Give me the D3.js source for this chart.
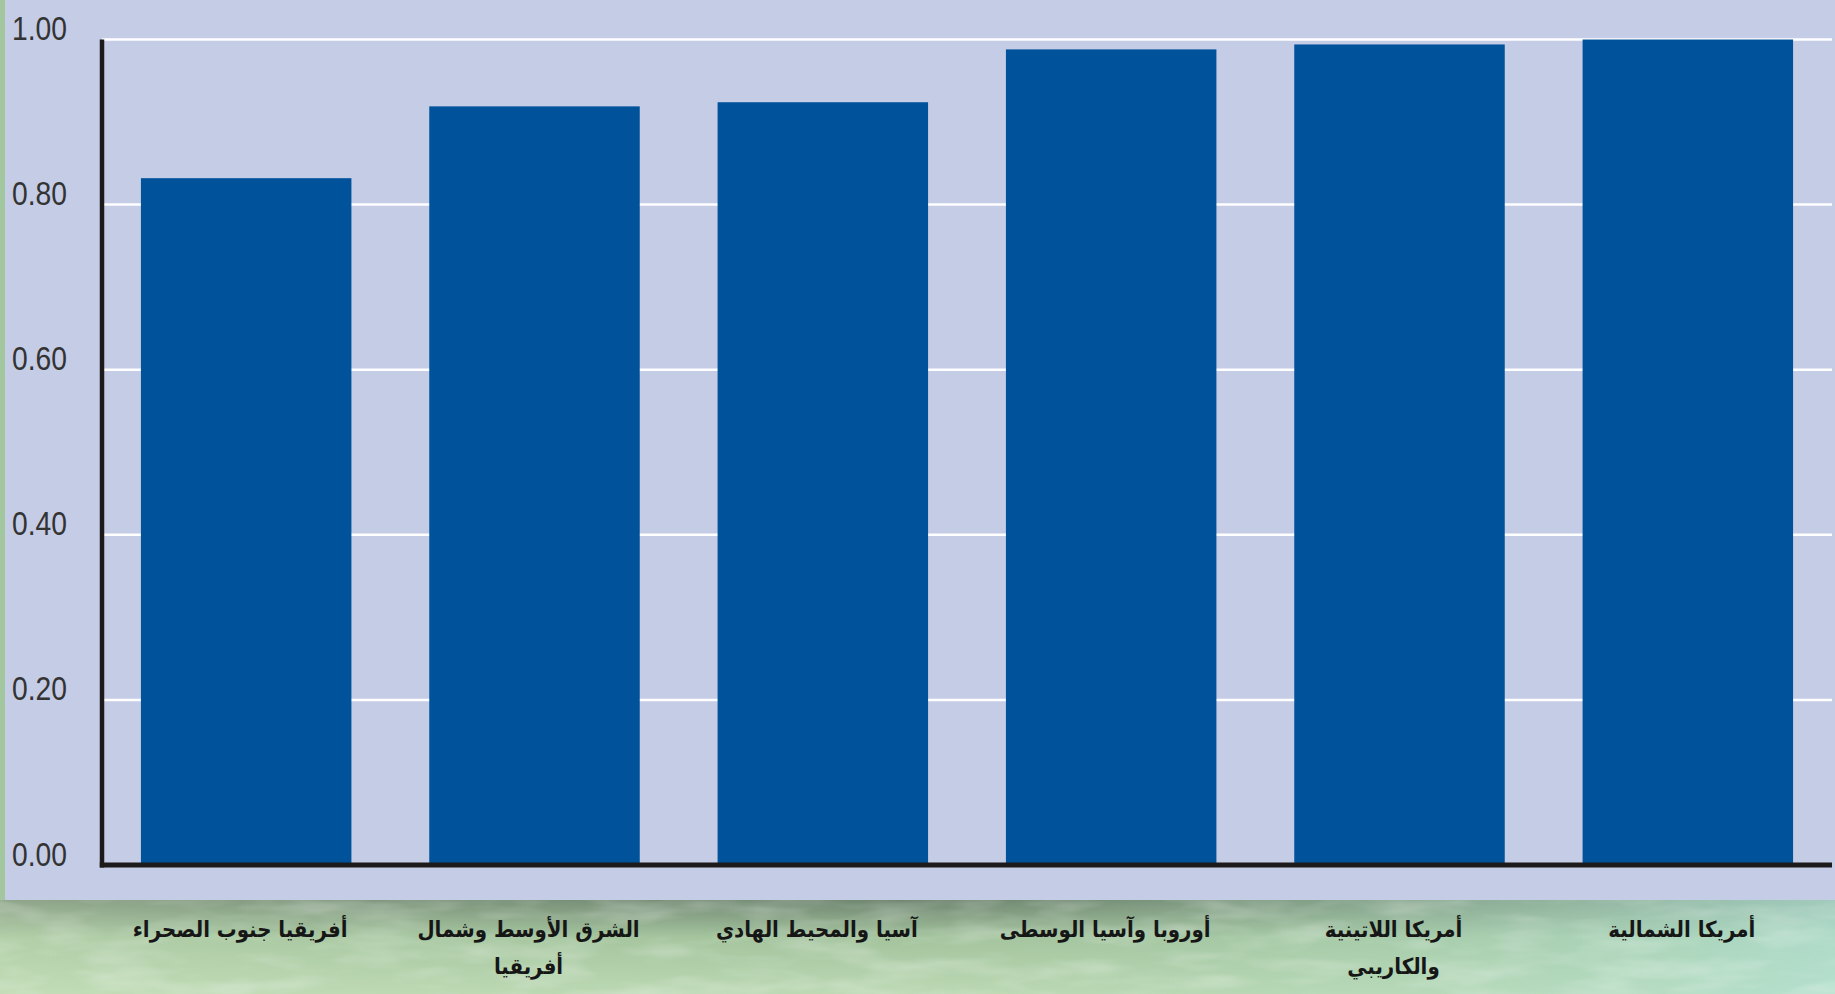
<!DOCTYPE html>
<html lang="ar">
<head>
    <meta charset="UTF-8">
    <title>Regions chart</title>
    <script src="https://d3js.org/d3.v7.min.js"></script>
    <style>
        body { margin: 0; padding: 0; overflow: hidden; }
        .tick-label { font-family: "Liberation Sans Narrow", "Arial Narrow", "Liberation Sans", sans-serif; font-size: 34px; fill: #333; }
        .cat-label { font-family: "DejaVu Sans Condensed", "DejaVu Sans", sans-serif; font-size: 22px; font-weight: bold; fill: #161616; }
    </style>
</head>
<body>
<div id="chart"></div>
<script>
    // data
    const regions = [
        ["أفريقيا جنوب الصحراء"],
        ["الشرق الأوسط وشمال", "أفريقيا"],
        ["آسيا والمحيط الهادي"],
        ["أوروبا وآسيا الوسطى"],
        ["أمريكا اللاتينية", "والكاريبي"],
        ["أمريكا الشمالية"]
    ];
    const values = [0.832, 0.919, 0.924, 0.988, 0.994, 1.00];
    const yTicks = [0, 0.2, 0.4, 0.6, 0.8, 1.0];

    const W = 1835, H = 994;
    const margin = { left: 102, right: 3, top: 39.5, bottom: 129 };
    const panelBottom = 900;

    const svg = d3.select("#chart").append("svg")
        .attr("width", W)
        .attr("height", H);

    const defs = svg.append("defs");
    const grad = defs.append("linearGradient")
        .attr("id", "bg")
        .attr("x1", 0).attr("y1", 0).attr("x2", 0).attr("y2", 1);
    grad.append("stop").attr("offset", "0%").attr("stop-color", "#6f8670");
    grad.append("stop").attr("offset", "12%").attr("stop-color", "#7e977d");
    grad.append("stop").attr("offset", "40%").attr("stop-color", "#a4c49e");
    grad.append("stop").attr("offset", "100%").attr("stop-color", "#bcd9b4");

    const gradR = defs.append("linearGradient")
        .attr("id", "bgR")
        .attr("x1", 0).attr("y1", 0).attr("x2", 1).attr("y2", 0);
    gradR.append("stop").attr("offset", "0%").attr("stop-color", "#cde3bd").attr("stop-opacity", 0.35);
    gradR.append("stop").attr("offset", "50%").attr("stop-color", "#a9cfa6").attr("stop-opacity", 0);
    gradR.append("stop").attr("offset", "100%").attr("stop-color", "#b2e2d6").attr("stop-opacity", 0.75);

    const filt = defs.append("filter").attr("id", "tex");
    filt.append("feTurbulence")
        .attr("type", "fractalNoise")
        .attr("baseFrequency", "0.012 0.05")
        .attr("numOctaves", 3)
        .attr("seed", 7);
    filt.append("feColorMatrix")
        .attr("type", "matrix")
        .attr("values", "0 0 0 0 1  0 0 0 0 1  0 0 0 0 1  0 0 0 -2.5 1.45");

    // background
    svg.append("rect").attr("width", W).attr("height", H).attr("fill", "#a2c69d");
    const strip = svg.append("g").attr("transform", `translate(0,${panelBottom})`);
    strip.append("rect").attr("width", W).attr("height", H - panelBottom).attr("fill", "url(#bg)");
    strip.append("rect").attr("width", W).attr("height", H - panelBottom).attr("fill", "url(#bgR)");
    strip.append("rect").attr("width", W).attr("height", H - panelBottom)
        .attr("filter", "url(#tex)").attr("opacity", 0.22);

    // plot panel
    svg.append("rect")
        .attr("x", 5).attr("y", 0)
        .attr("width", W - 5).attr("height", panelBottom)
        .attr("fill", "#c5cce5");

    const x = d3.scaleBand()
        .domain(d3.range(regions.length))
        .range([margin.left, W - margin.right])
        .paddingInner(0.27)
        .paddingOuter(0.135);

    const y = d3.scaleLinear()
        .domain([0, 1])
        .range([H - margin.bottom, margin.top]);

    // grid lines
    svg.append("g")
        .selectAll("line")
        .data(yTicks.slice(1))
        .join("line")
        .attr("x1", margin.left)
        .attr("x2", W - margin.right)
        .attr("y1", d => y(d))
        .attr("y2", d => y(d))
        .attr("stroke", "#ffffff")
        .attr("stroke-width", 2.5);

    // bars
    svg.append("g")
        .selectAll("rect")
        .data(values)
        .join("rect")
        .attr("x", (d, i) => x(i))
        .attr("y", d => y(d))
        .attr("width", x.bandwidth())
        .attr("height", d => y(0) - y(d))
        .attr("fill", "#00529b");

    // y axis labels
    const yAxis = d3.axisLeft(y)
        .tickValues(yTicks)
        .tickFormat(d3.format(".2f"))
        .tickSize(0);

    const ga = svg.append("g")
        .attr("transform", `translate(${margin.left},0)`)
        .call(yAxis);
    ga.select(".domain").remove();
    ga.selectAll("text")
        .attr("class", "tick-label")
        .attr("text-anchor", "start")
        .attr("x", 12 - margin.left)
        .attr("dy", "0.0em")
        .attr("textLength", 55)
        .attr("lengthAdjust", "spacingAndGlyphs")
        .attr("fill", null);

    // axis lines
    svg.append("line")
        .attr("x1", margin.left).attr("x2", margin.left)
        .attr("y1", y(1)).attr("y2", y(0) + 2.5)
        .attr("stroke", "#1c1a1a").attr("stroke-width", 4.5);
    svg.append("line")
        .attr("x1", margin.left - 2.2).attr("x2", W - margin.right)
        .attr("y1", y(0)).attr("y2", y(0))
        .attr("stroke", "#1c1a1a").attr("stroke-width", 5);

    // category labels
    const lab = svg.append("g")
        .selectAll("text")
        .data(regions)
        .join("text")
        .attr("class", "cat-label")
        .attr("direction", "rtl")
        .attr("text-anchor", "middle")
        .attr("x", (d, i) => x(i) + x.bandwidth() / 2 - 6)
        .attr("y", 937);
    lab.selectAll("tspan")
        .data(d => d)
        .join("tspan")
        .attr("x", function () { return d3.select(this.parentNode).attr("x"); })
        .attr("dy", (d, i) => i === 0 ? 0 : 37)
        .text(d => d);
</script>
</body>
</html>
